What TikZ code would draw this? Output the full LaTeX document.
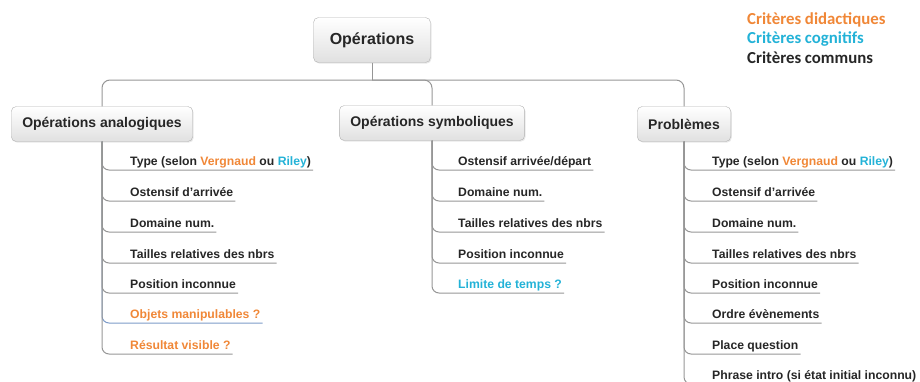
\documentclass[tikz,border=0pt]{standalone}
\usepackage{fontspec}
\setmainfont{Liberation Sans}
\newfontfamily\legendfont{Carlito}
\usetikzlibrary{positioning, shadows}

\definecolor{critorange}{RGB}{240,135,55}
\definecolor{critcyan}{RGB}{35,178,215}
\definecolor{twiggray}{RGB}{150,150,150}
\definecolor{twigblue}{RGB}{125,155,200}

\tikzset{
  box/.style={draw=black!30, rounded corners=5pt, top color=white, bottom color=black!12,
    drop shadow={opacity=0.18, shadow xshift=1pt, shadow yshift=-1.2pt},
    font=\fontsize{14}{16}\selectfont\bfseries, text=black!85, inner xsep=11pt, minimum height=35pt},
  leaf/.style={anchor=south west, inner xsep=2pt, inner ysep=2pt, text height=9pt, text depth=2pt,
    font=\fontsize{12.2}{14}\selectfont\bfseries, text=black!85},
  link/.style={draw=twiggray, line width=1pt, rounded corners=8pt},
  twig/.style={draw=twiggray, line width=1pt, rounded corners=7pt},
  legend/.style={anchor=west, inner sep=0pt, font=\legendfont\fontsize{16.8}{18}\selectfont\bfseries}
}

\begin{document}
\begin{tikzpicture}[x=1pt, y=-1pt]
    \useasboundingbox (0,0) rectangle (920,381);

    % racine et legende
    \node[box, minimum width=117pt, minimum height=45pt, font=\fontsize{16}{18}\selectfont\bfseries] (root) at (372,40) {Opérations};
    \node[legend, text=critorange] (ldid) at (747,20) {Critères didactiques};
    \node[legend, text=critcyan] (lcog) at (747,39) {Critères cognitifs};
    \node[legend, text=black!85] (lcom) at (747,58) {Critères communs};

    % branches
    \node[box] (ana) at (102,124) {Opérations analogiques};
    \node[box] (sym) at (432,123) {Opérations symboliques};
    \node[box] (pro) at (684,124) {Problèmes};

    \coordinate (hub) at (372,80);
    \draw[link, rounded corners=0pt] (root) -- (hub);
    \draw[link] (hub) -| (ana);
    \draw[link] (hub) -| (sym);
    \draw[link] (hub) -| (pro);

    % operations analogiques
    \node[leaf] (a1) at (128,170) {Type (selon \textcolor{critorange}{Vergnaud} ou \textcolor{critcyan}{Riley})};
    \node[leaf] (a2) at (128,201) {Ostensif d'arrivée};
    \node[leaf] (a3) at (128,232) {Domaine num.};
    \node[leaf] (a4) at (128,263) {Tailles relatives des nbrs};
    \node[leaf] (a5) at (128,293) {Position inconnue};
    \node[leaf, text=critorange] (a6) at (128,323) {Objets manipulables ?};
    \node[leaf, text=critorange] (a7) at (128,354) {Résultat visible ?};

    % operations symboliques
    \node[leaf] (s1) at (456,170) {Ostensif arrivée/départ};
    \node[leaf] (s2) at (456,201) {Domaine num.};
    \node[leaf] (s3) at (456,232) {Tailles relatives des nbrs};
    \node[leaf] (s4) at (456,263) {Position inconnue};
    \node[leaf, text=critcyan] (s5) at (456,293) {Limite de temps ?};

    % problemes
    \node[leaf] (p1) at (710,170) {Type (selon \textcolor{critorange}{Vergnaud} ou \textcolor{critcyan}{Riley})};
    \node[leaf] (p2) at (710,201) {Ostensif d'arrivée};
    \node[leaf] (p3) at (710,232) {Domaine num.};
    \node[leaf] (p4) at (710,263) {Tailles relatives des nbrs};
    \node[leaf] (p5) at (710,293) {Position inconnue};
    \node[leaf] (p6) at (710,323) {Ordre évènements};
    \node[leaf] (p7) at (710,354) {Place question};
    \node[leaf] (p8) at (710,384) {Phrase intro (si état initial inconnu)};

    \draw[twig, draw=twigblue] (ana) |- (a6.south east);
    \foreach \i in {1,...,5,7} \draw[twig] (ana) |- (a\i.south east);
    \foreach \i in {1,...,5} \draw[twig] (sym) |- (s\i.south east);
    \foreach \i in {1,...,8} \draw[twig] (pro) |- (p\i.south east);
\end{tikzpicture}
\end{document}
